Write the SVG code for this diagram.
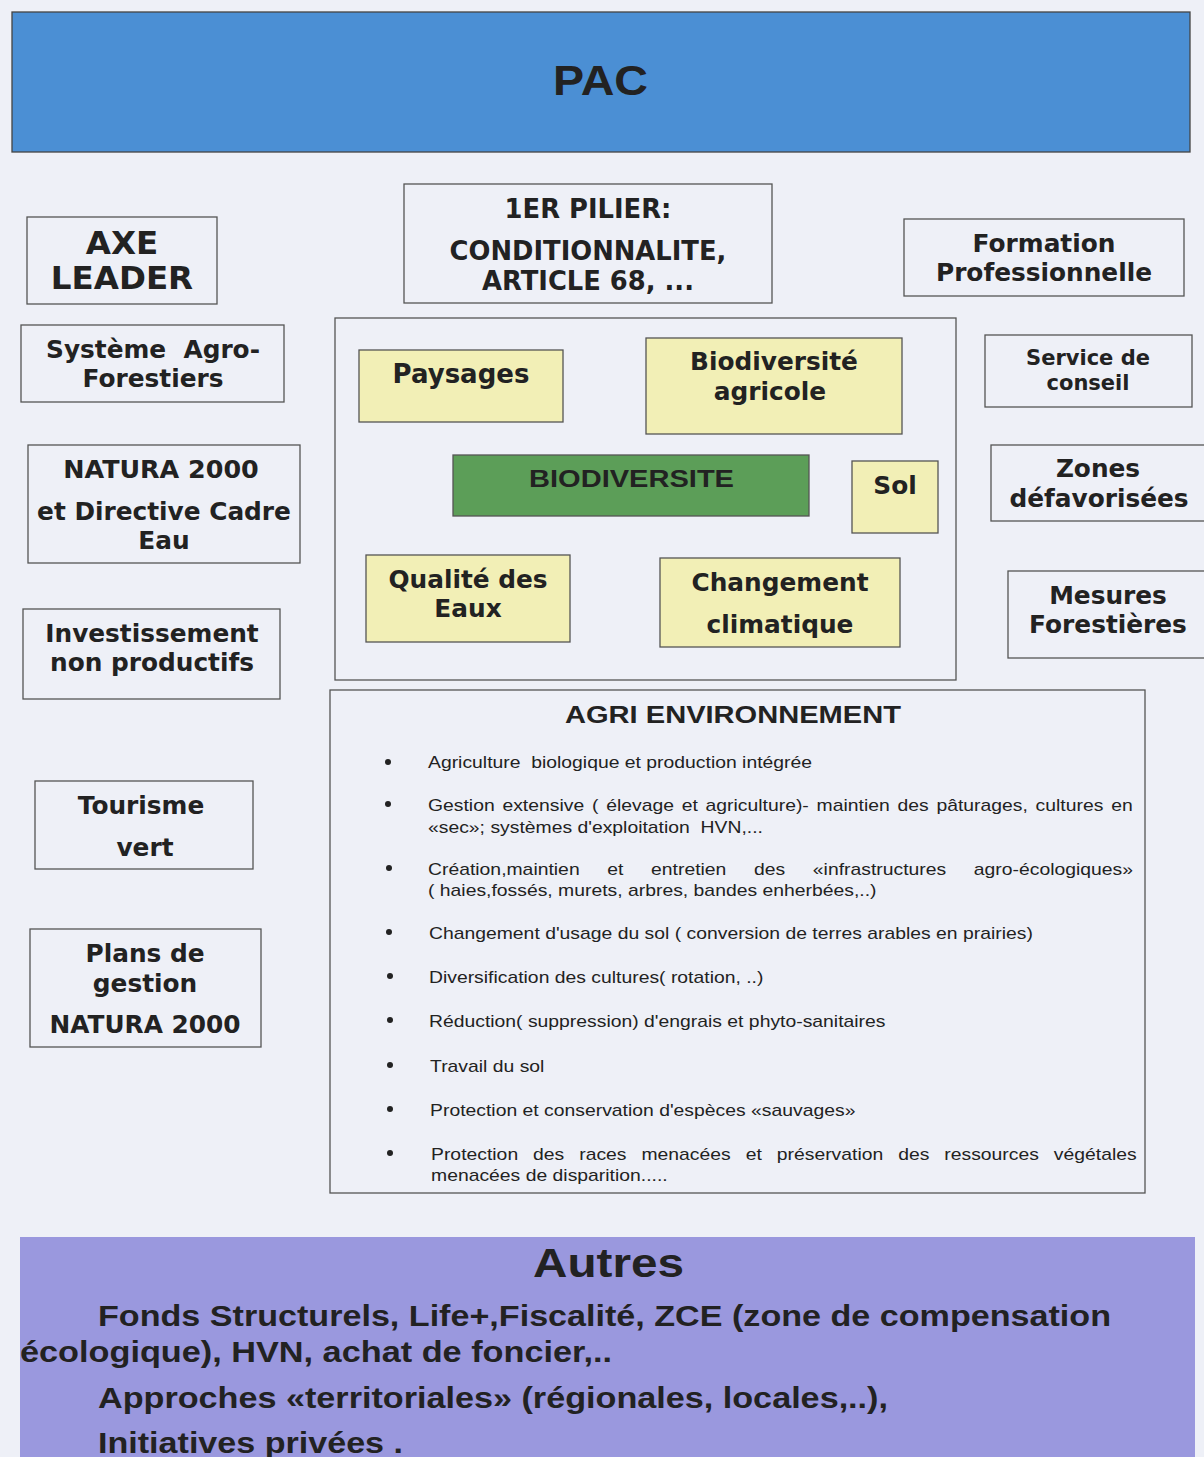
<svg xmlns="http://www.w3.org/2000/svg" width="1204" height="1457" viewBox="0 0 1204 1457">
<style>
.box{fill:none;stroke:#555;stroke-width:1.3}
.yb{fill:#f2efb6;stroke:#555;stroke-width:1.3}
.lbl{font-family:"DejaVu Sans",Verdana,sans-serif;font-weight:bold;fill:#222;text-anchor:middle;font-size:24.8px}
.ar{font-family:"Liberation Sans",Arial,sans-serif;fill:#222}
.li{font-family:"Liberation Sans",Arial,sans-serif;font-size:16px;fill:#222}
.bu{fill:#222}
</style>
<rect width="1204" height="1457" fill="#eef0f7"/>
<g id="pac">
<rect x="12" y="12" width="1178" height="140" fill="#4b8fd4" stroke="#444" stroke-width="1.3"/>
<text x="553" y="95" class="ar" font-size="42" font-weight="bold" textLength="95" lengthAdjust="spacingAndGlyphs">PAC</text>
</g>
<g id="pilier">
<rect x="404" y="184" width="368" height="119" class="box"/>
<text class="lbl" style="font-size:25.8px"><tspan x="588" y="218">1ER PILIER:</tspan><tspan x="588" y="260">CONDITIONNALITE,</tspan><tspan x="588" y="290">ARTICLE 68, ...</tspan></text>
</g>
<g id="leader">
<rect x="27" y="217" width="190" height="87" class="box"/>
<text class="lbl" style="font-size:32.5px"><tspan x="122" y="254">AXE</tspan><tspan x="122" y="289">LEADER</tspan></text>
</g>
<g id="agroforest">
<rect x="21" y="325" width="263" height="77" class="box"/>
<text class="lbl"><tspan x="153" y="358">Système&#160; Agro-</tspan><tspan x="153" y="387">Forestiers</tspan></text>
</g>
<g id="natura">
<rect x="28" y="445" width="272" height="118" class="box"/>
<text class="lbl"><tspan x="161" y="478" style="font-size:25.4px">NATURA 2000</tspan><tspan x="164" y="520">et Directive Cadre</tspan><tspan x="164" y="549">Eau</tspan></text>
</g>
<g id="invest">
<rect x="23" y="609" width="257" height="90" class="box"/>
<text class="lbl"><tspan x="152" y="642">Investissement</tspan><tspan x="152" y="671">non productifs</tspan></text>
</g>
<g id="tourisme">
<rect x="35" y="781" width="218" height="88" class="box"/>
<text class="lbl"><tspan x="141" y="814">Tourisme</tspan><tspan x="145" y="856">vert</tspan></text>
</g>
<g id="plans">
<rect x="30" y="929" width="231" height="118" class="box"/>
<text class="lbl"><tspan x="145" y="962">Plans de</tspan><tspan x="145" y="992">gestion</tspan><tspan x="145" y="1033">NATURA 2000</tspan></text>
</g>
<g id="formation">
<rect x="904" y="219" width="280" height="77" class="box"/>
<text class="lbl"><tspan x="1044" y="252">Formation</tspan><tspan x="1044" y="281">Professionnelle</tspan></text>
</g>
<g id="conseil">
<rect x="985" y="335" width="207" height="72" class="box"/>
<text class="lbl" style="font-size:21px"><tspan x="1088" y="365">Service de</tspan><tspan x="1088" y="390">conseil</tspan></text>
</g>
<g id="zones">
<rect x="991" y="445" width="220" height="76" class="box"/>
<text class="lbl"><tspan x="1098" y="477">Zones</tspan><tspan x="1099" y="507">défavorisées</tspan></text>
</g>
<g id="mesures">
<rect x="1008" y="571" width="206" height="87" class="box"/>
<text class="lbl"><tspan x="1108" y="604">Mesures</tspan><tspan x="1108" y="633">Forestières</tspan></text>
</g>
<g id="centre">
<rect x="335" y="318" width="621" height="362" class="box"/>
</g>
<g id="paysages">
<rect x="359" y="350" width="204" height="72" class="yb"/>
<text class="lbl" style="font-size:26px"><tspan x="461" y="383">Paysages</tspan></text>
</g>
<g id="bioagri">
<rect x="646" y="338" width="256" height="96" class="yb"/>
<text class="lbl"><tspan x="774" y="370">Biodiversité</tspan><tspan x="770" y="400">agricole</tspan></text>
</g>
<g id="biodiversite">
<rect x="453" y="455" width="356" height="61" fill="#5c9e58" stroke="#555" stroke-width="1.3"/>
<text x="529" y="487" class="ar" font-size="24" font-weight="bold" textLength="205" lengthAdjust="spacingAndGlyphs">BIODIVERSITE</text>
</g>
<g id="sol">
<rect x="852" y="461" width="86" height="72" class="yb"/>
<text class="lbl"><tspan x="895" y="494">Sol</tspan></text>
</g>
<g id="eaux">
<rect x="366" y="555" width="204" height="87" class="yb"/>
<text class="lbl"><tspan x="468" y="588">Qualité des</tspan><tspan x="468" y="617">Eaux</tspan></text>
</g>
<g id="climat">
<rect x="660" y="558" width="240" height="89" class="yb"/>
<text class="lbl"><tspan x="780" y="591">Changement</tspan><tspan x="780" y="633">climatique</tspan></text>
</g>
<g id="agrienv">
<rect x="330" y="690" width="815" height="503" class="box"/>
<text x="565" y="723" class="ar" font-size="24" font-weight="bold" textLength="336" lengthAdjust="spacingAndGlyphs">AGRI ENVIRONNEMENT</text>
<g class="bu">
<circle cx="388" cy="762" r="3"/><circle cx="388" cy="804" r="3"/><circle cx="389" cy="868" r="3"/><circle cx="389" cy="932" r="3"/><circle cx="390" cy="976" r="3"/><circle cx="390" cy="1020" r="3"/><circle cx="390" cy="1065" r="3"/><circle cx="390" cy="1109" r="3"/><circle cx="390" cy="1153" r="3"/>
</g>
<g transform="matrix(1.21 0 0 1 -89.88 0)">
<text class="li" x="428" y="768">Agriculture&#160; biologique et production intégrée</text>
<text class="li" x="428" y="811" word-spacing="1.97">Gestion extensive ( élevage et agriculture)- maintien des pâturages, cultures en</text>
<text class="li" x="428" y="833">«sec»; systèmes d'exploitation&#160; HVN,...</text>
<text class="li" x="428" y="875" word-spacing="18.4">Création,maintien et entretien des «infrastructures agro-écologiques»</text>
<text class="li" x="428" y="896">( haies,fossés, murets, arbres, bandes enherbées,..)</text>
<text class="li" x="428.8" y="939">Changement d'usage du sol ( conversion de terres arables en prairies)</text>
<text class="li" x="428.8" y="983">Diversification des cultures( rotation, ..)</text>
<text class="li" x="428.8" y="1027">Réduction( suppression) d'engrais et phyto-sanitaires</text>
<text class="li" x="429.7" y="1072">Travail du sol</text>
<text class="li" x="429.7" y="1116">Protection et conservation d'espèces «sauvages»</text>
<text class="li" x="430.5" y="1160" word-spacing="7.9">Protection des races menacées et préservation des ressources végétales</text>
<text class="li" x="430.5" y="1181">menacées de disparition.....</text>
</g>
</g>
<g id="autres">
<rect x="20" y="1237" width="1175" height="230" fill="#9a98de"/>
<text x="533" y="1277" class="ar" font-size="40" font-weight="bold" textLength="151" lengthAdjust="spacingAndGlyphs">Autres</text>
<text class="ar" font-size="29" font-weight="bold" x="98" y="1326" textLength="1013" lengthAdjust="spacingAndGlyphs">Fonds Structurels, Life+,Fiscalité, ZCE (zone de compensation</text>
<text class="ar" font-size="29" font-weight="bold" x="20" y="1362" textLength="592" lengthAdjust="spacingAndGlyphs">écologique), HVN, achat de foncier,..</text>
<text class="ar" font-size="29" font-weight="bold" x="98" y="1408" textLength="790" lengthAdjust="spacingAndGlyphs">Approches «territoriales» (régionales, locales,..),</text>
<text class="ar" font-size="29" font-weight="bold" x="98" y="1453" textLength="305" lengthAdjust="spacingAndGlyphs">Initiatives privées .</text>
</g>
</svg>
